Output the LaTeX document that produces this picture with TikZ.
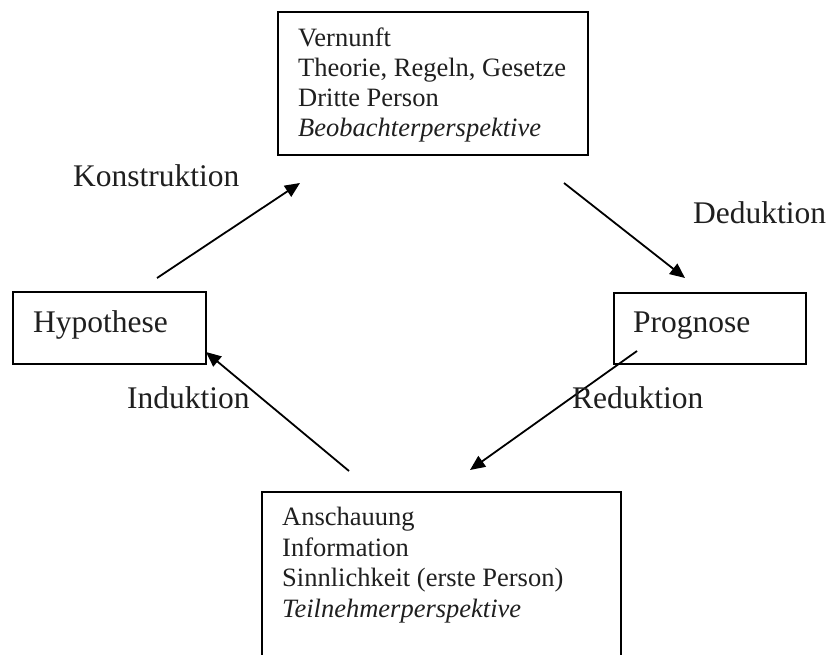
\documentclass[tikz,border=0pt]{standalone}
\usepackage{fontspec}
\setmainfont{Liberation Serif}
\usetikzlibrary{arrows.meta}
\begin{document}
\begin{tikzpicture}[x=1pt,y=-1pt,
  frame/.style={draw, line width=1.8pt, rectangle, inner sep=0pt, anchor=north west},
  boxline/.style={anchor=base west, inner sep=0pt, font=\fontsize{26.5}{30.5}\selectfont, text=black!88},
  label/.style={anchor=base west, inner sep=0pt, font=\fontsize{31.5}{36}\selectfont, text=black!88},
  flow/.style={line width=1.8pt, -{Triangle[length=15pt,width=13pt]}}]
\clip (0,0) rectangle (832,655);
\fill[white] (0,0) rectangle (832,655);

% upper box: reason / observer
\node[frame, minimum width=310pt, minimum height=143pt] (vern) at (277,11) {};
\node[boxline] (v1) at (298,47) {Vernunft};
\node[boxline] (v2) at (298,77) {Theorie, Regeln, Gesetze};
\node[boxline] (v3) at (298,107) {Dritte Person};
\node[boxline] (v4) at (298,137) {\itshape Beobachterperspektive};

% lower box: intuition / participant
\node[frame, minimum width=359pt, minimum height=190pt] (ansch) at (261,491) {};
\node[boxline] (a1) at (282,525) {Anschauung};
\node[boxline] (a2) at (282,556) {Information};
\node[boxline] (a3) at (282,586) {Sinnlichkeit (erste Person)};
\node[boxline] (a4) at (282,617) {\itshape Teilnehmerperspektive};

% side boxes
\node[frame, minimum width=193pt, minimum height=72pt] (hyp) at (12,291) {};
\node[label] (hyptext) at (33,332) {Hypothese};
\node[frame, minimum width=192pt, minimum height=71pt] (prog) at (613,292) {};
\node[label] (progtext) at (633,332) {Prognose};

% arrow end points
\coordinate (k0) at (157,278);
\coordinate (k1) at (300,183);
\coordinate (d0) at (564,183);
\coordinate (d1) at (685,278);
\coordinate (r0) at (637,351);
\coordinate (r1) at (470,470);
\coordinate (i0) at (349,471);
\coordinate (i1) at (206,352);

\draw[flow] (k0) -- (k1);
\draw[flow] (d0) -- (d1);
\draw[flow] (r0) -- (r1);
\draw[flow] (i0) -- (i1);

% arrow labels
\node[label] (konst) at (73,186) {Konstruktion};
\node[label] (ded) at (693,223) {Deduktion};
\node[label] (red) at (572,408) {Reduktion};
\node[label] (ind) at (127,408) {Induktion};
\end{tikzpicture}
\end{document}
